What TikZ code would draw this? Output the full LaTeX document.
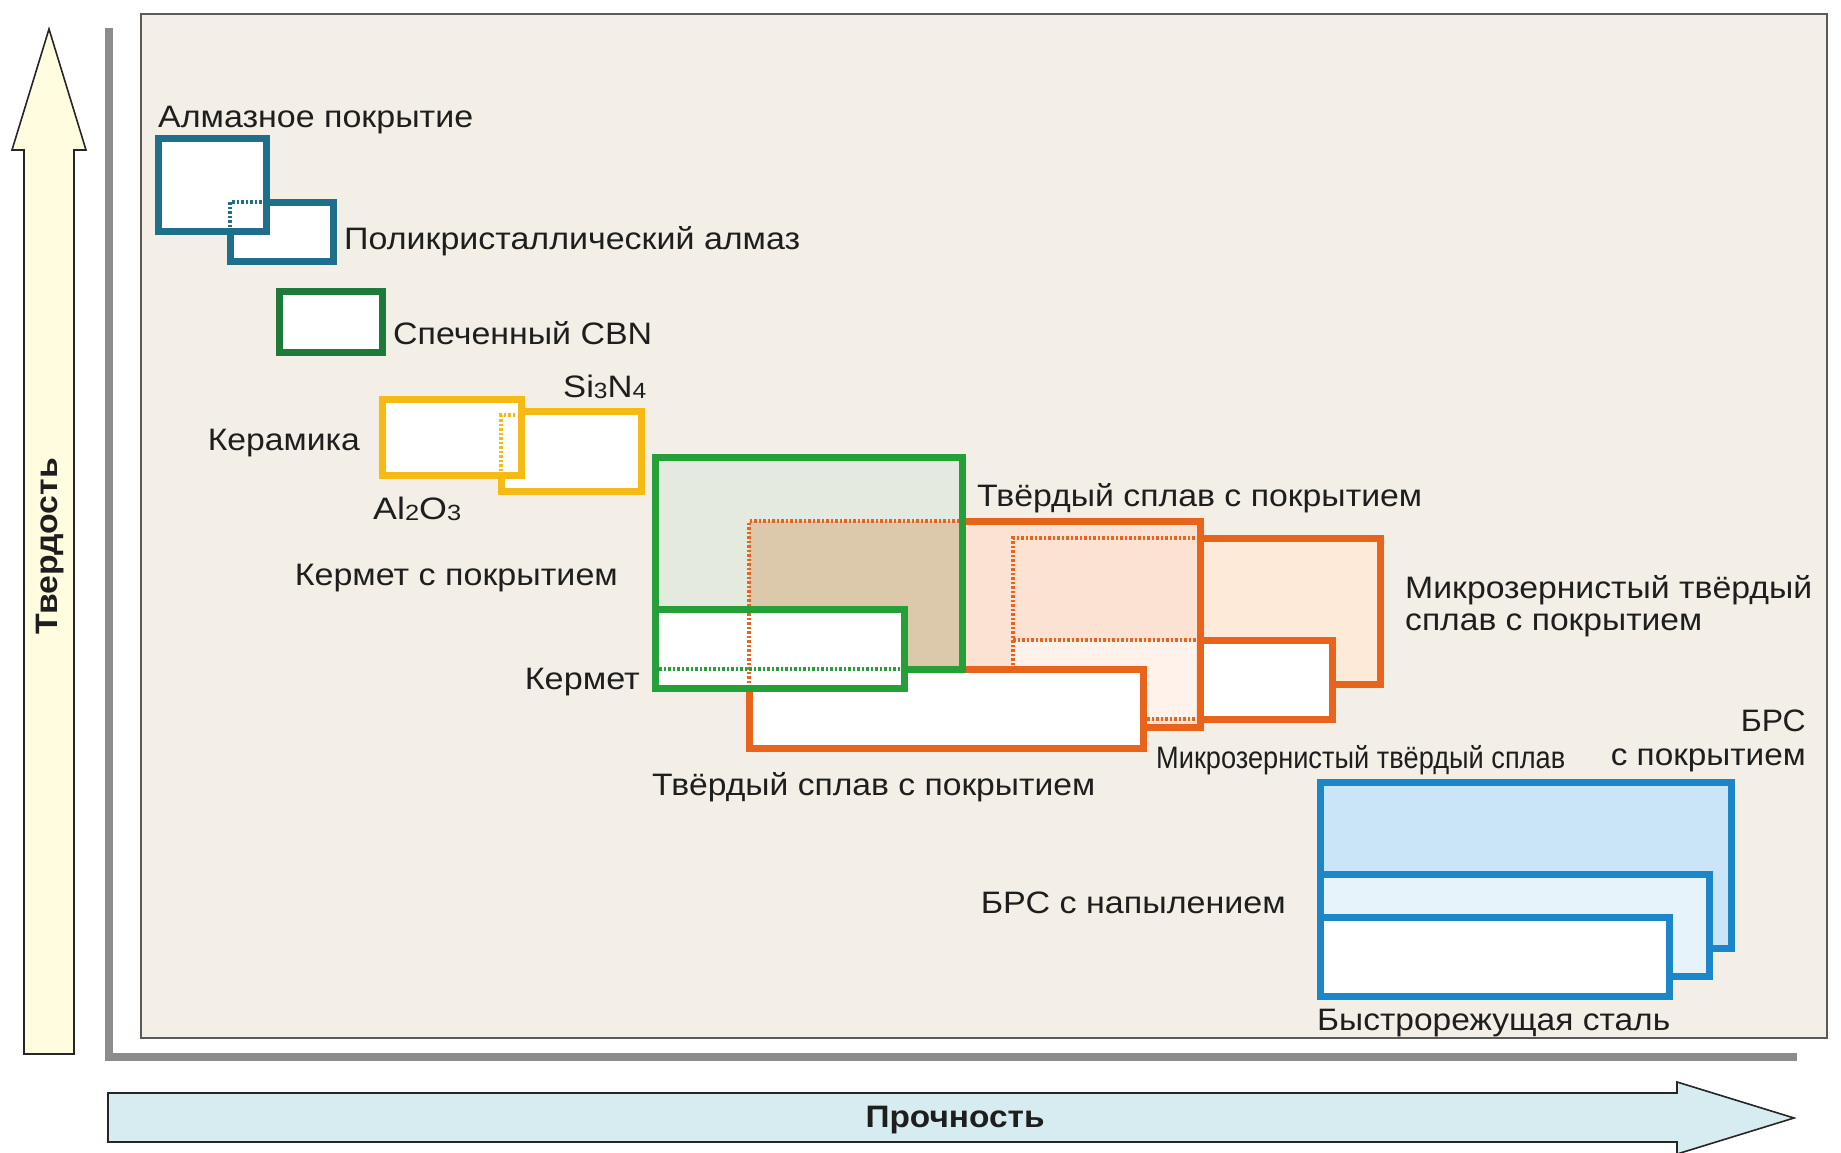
\documentclass[tikz,border=0pt]{standalone}
\usepackage{fontspec}
\setmainfont{Liberation Sans}
\usepackage{graphicx}
\newcommand\fitw[2]{\resizebox{#1pt}{\height}{#2}}
\newcommand\lowdig[1]{\raisebox{-0.06ex}{\fontsize{22}{22}\selectfont #1}}
\definecolor{panelbg}{HTML}{F3EFE6}
\definecolor{panelbd}{HTML}{5A5A5A}
\definecolor{axisgray}{HTML}{8C8C8C}
\definecolor{txtc}{HTML}{1E1E1E}
\definecolor{cTeal}{HTML}{1D6F8B}
\definecolor{cCBN}{HTML}{1E7A38}
\definecolor{cYel}{HTML}{F6BA14}
\definecolor{cGrn}{HTML}{25A038}
\definecolor{cOrg}{HTML}{E8641C}
\definecolor{cBlue}{HTML}{1B86C8}
\definecolor{cGrnF}{HTML}{E4EBDE}
\definecolor{cTan}{HTML}{DCC8AA}
\definecolor{cPeach}{HTML}{FCE2D3}
\definecolor{cPeachL}{HTML}{FEF2EA}
\definecolor{cMicC}{HTML}{FDEAD8}
\definecolor{cBlueA}{HTML}{C9E5F7}
\definecolor{cBlueB}{HTML}{E6F3FB}
\definecolor{cArrY}{HTML}{FFFCE0}
\definecolor{cArrB}{HTML}{D6ECF0}
\begin{document}
\begin{tikzpicture}[x=1pt,y=-1pt,
  every node/.style={inner sep=0pt, text=txtc, font=\fontsize{31}{37}\selectfont},
  box/.style={line width=7pt},
  dots/.style={line width=4.5pt, dash pattern=on 2.5pt off 2pt},
  arrowshape/.style={draw=black!85, line width=1.6pt, line join=miter}]
\useasboundingbox (0,0) rectangle (1841,1153);
\fill[white] (0,0) rectangle (1841,1153);
% panel
\draw[fill=panelbg, draw=panelbd, line width=2pt] (141,14) rectangle (1827,1038);
% axes lines
\draw[axisgray, line width=8pt, line join=miter] (109,28) -- (109,1056.5) -- (1797,1056.5);
% arrows
\draw[arrowshape, fill=cArrY] (24,1054) -- (24,150) -- (12,150) -- (49,29) -- (86,150) -- (74,150) -- (74,1054) -- cycle;
\draw[arrowshape, fill=cArrB] (108,1093) -- (1677,1093) -- (1677,1082) -- (1794,1118) -- (1677,1154) -- (1677,1142) -- (108,1142) -- cycle;
\node[font=\fontsize{31}{37}\selectfont\bfseries, rotate=90] (ylab) at (50,546) {\fitw{176}{Твердость}};
\node[font=\fontsize{31}{37}\selectfont\bfseries] (xlab) at (955,1120) {\fitw{179}{Прочность}};
% diamond group
\draw[box, cTeal, fill=white] (230,202) rectangle (333,261);
\draw[box, cTeal, fill=white] (158,139) rectangle (266,231);
\draw[dots, cTeal] (230,227) -- (230,202) -- (262,202);
% CBN
\draw[box, cCBN, fill=white] (279,291) rectangle (382,352);
% ceramics
\draw[box, cYel, fill=white] (501,411) rectangle (641,491);
\draw[box, cYel, fill=white] (382,399) rectangle (521,475);
\draw[dots, cYel] (501,471) -- (501,415) -- (517,415);
% orange group
\draw[box, cOrg, fill=cMicC] (1013,538) rectangle (1380,684);
\draw[box, cOrg, fill=white] (1013,640) rectangle (1332,719);
\draw[box, cOrg, fill=cPeach] (749,521) rectangle (1200,727);
\fill[cPeachL] (1013,640) rectangle (1196,719);
\draw[dots, cOrg] (1013,665) -- (1013,538) -- (1196,538);
\draw[dots, cOrg] (1013,640) -- (1196,640);
\draw[dots, cOrg] (1147,719) -- (1196,719);
\draw[box, cOrg, fill=white] (749,669) rectangle (1143,748);
% coated cermet
\fill[cGrnF] (655,457) rectangle (962,669);
\fill[cTan] (749,521) rectangle (962,669);
\draw[dots, cOrg] (749,669) -- (749,521) -- (962,521);
\draw[box, cGrn] (655,457) rectangle (962,669);
% cermet
\fill[white] (655,609) rectangle (904,688);
\draw[dots, cOrg] (749,613) -- (749,684);
\draw[dots, cGrn] (659,669) -- (900,669);
\draw[box, cGrn] (655,609) rectangle (904,688);
% HSS group
\draw[box, cBlue, fill=cBlueA] (1320,782) rectangle (1731,948);
\draw[box, cBlue, fill=cBlueB] (1320,874) rectangle (1709,976);
\draw[box, cBlue, fill=white] (1320,917) rectangle (1669,996);
% labels
\node[anchor=west] (lAC) at (158,120) {\fitw{315}{Алмазное покрытие}};
\node[anchor=west] (lPCD) at (344,241) {\fitw{456}{Поликристаллический алмаз}};
\node[anchor=west] (lCBN) at (393,333) {\fitw{259}{Спеченный CBN}};
\node[anchor=west] (lSi) at (563,387) {\fitw{83}{Si\lowdig{3}N\lowdig{4}}};
\node[anchor=east] (lCer) at (360,443) {\fitw{152}{Керамика}};
\node[anchor=west] (lAl) at (373,509) {\fitw{88}{Al\lowdig{2}O\lowdig{3}}};
\node[anchor=east] (lCCer) at (618,578) {\fitw{323}{Кермет с покрытием}};
\node[anchor=west] (lCCarb) at (977,498) {\fitw{445}{Твёрдый сплав с покрытием}};
\node[anchor=east] (lCermet) at (640,682) {\fitw{115}{Кермет}};
\node[anchor=west] (lMicC1) at (1405,590) {\fitw{407}{Микрозернистый твёрдый}};
\node[anchor=west] (lMicC2) at (1405,625) {\fitw{297}{сплав с покрытием}};
\node[anchor=east] (lBRS1) at (1806,721) {\fitw{65}{БРС}};
\node[anchor=east] (lBRS2) at (1806,760) {\fitw{195}{с покрытием}};
\node[anchor=west] (lMic) at (1156,760) {\fitw{409}{Микрозернистый твёрдый сплав}};
\node[anchor=west] (lCarb) at (652,787) {\fitw{443}{Твёрдый сплав с покрытием}};
\node[anchor=east] (lSpray) at (1286,903) {\fitw{305}{БРС с напылением}};
\node[anchor=west] (lHSS) at (1317,1023) {\fitw{353}{Быстрорежущая сталь}};
\end{tikzpicture}
\end{document}
